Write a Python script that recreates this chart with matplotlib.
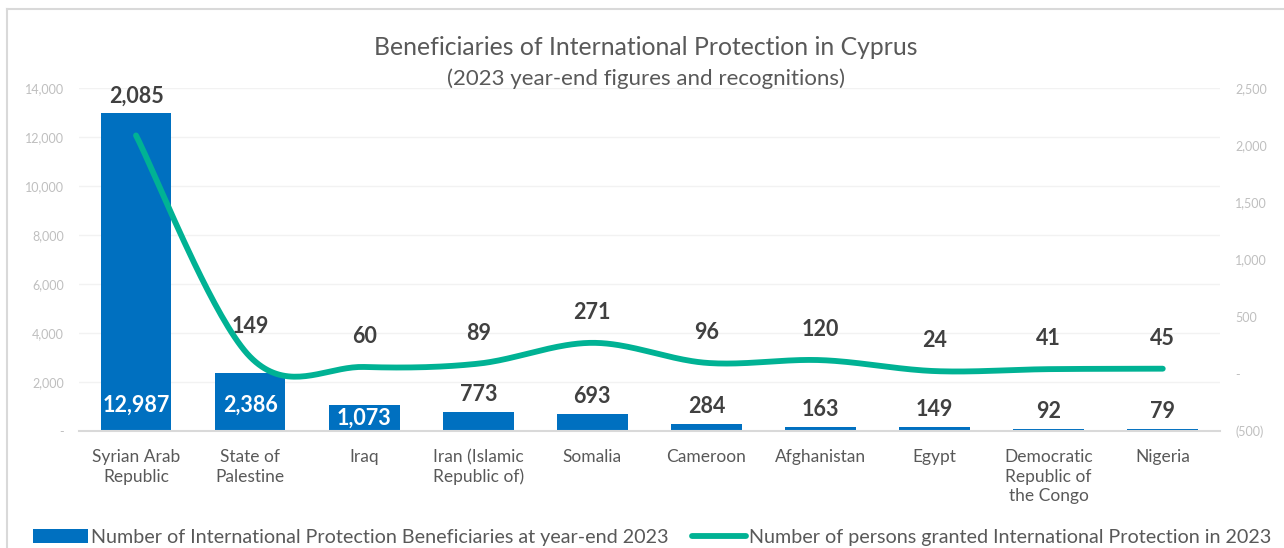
import matplotlib
matplotlib.use('Agg')
import matplotlib.pyplot as plt
import numpy as np
from matplotlib.ticker import FuncFormatter
from matplotlib.lines import Line2D
from matplotlib.patches import Patch

countries = ['Syrian Arab\nRepublic', 'State of\nPalestine', 'Iraq', 'Iran (Islamic\nRepublic of)',
             'Somalia', 'Cameroon', 'Afghanistan', 'Egypt', 'Democratic\nRepublic of\nthe Congo', 'Nigeria']
beneficiaries = [12987, 2386, 1073, 773, 693, 284, 163, 149, 92, 79]
granted = [2085, 149, 60, 89, 271, 96, 120, 24, 41, 45]

bar_label = 'Number of International Protection Beneficiaries at year-end 2023'
line_label = 'Number of persons granted International Protection in 2023'

BLUE = '#0070C0'
TEAL = '#00B294'
DARK = '#404040'
AXIS_GRAY = '#BFBFBF'
TEXT_GRAY = '#595959'

plt.rcParams['font.family'] = ['Lato', 'DejaVu Sans']


def smooth(xs, ys, n=40):
    # excel-like smoothed line: catmull-rom as cubic bezier segments
    pts = np.column_stack([xs, ys]).astype(float)
    ext = np.vstack([pts[0], pts, pts[-1]])
    out = []
    for i in range(len(pts) - 1):
        p0, p1, p2, p3 = ext[i], ext[i + 1], ext[i + 2], ext[i + 3]
        c1 = p1 + (p2 - p0) / 6
        c2 = p2 - (p3 - p1) / 6
        t = np.linspace(0, 1, n)[:, None]
        seg = (1 - t) ** 3 * p1 + 3 * (1 - t) ** 2 * t * c1 + 3 * (1 - t) * t ** 2 * c2 + t ** 3 * p2
        out.append(seg if i == 0 else seg[1:])
    out = np.vstack(out)
    return out[:, 0], out[:, 1]


def thousands(v, pos):
    if v == 0:
        return '-'
    if v < 0:
        return f'({abs(v):,.0f})'
    return f'{v:,.0f}'


fig = plt.figure(figsize=(12.84, 5.48), dpi=100)
ax = fig.add_axes([0.0615, 0.2135, 0.8885, 0.626])
ax2 = ax.twinx()

x = np.arange(len(countries))
ax.bar(x, beneficiaries, width=0.62, color=BLUE, zorder=2)
ax.set_xlim(-0.5, len(countries) - 0.5)
ax.set_ylim(0, 14000)
ax.set_yticks(np.arange(0, 14001, 2000))
ax.yaxis.set_major_formatter(FuncFormatter(thousands))
ax.grid(axis='y', color='#F2F2F2', linewidth=1, zorder=0)
ax.set_axisbelow(True)

ax.set_xticks(x)
ax.set_xticklabels(countries, fontsize=12.5, color=TEXT_GRAY, linespacing=1.27, va='top')
ax.tick_params(axis='x', length=0, pad=13)
ax.tick_params(axis='y', length=0, labelsize=9, labelcolor=AXIS_GRAY, pad=11)

for side in ['top', 'right', 'left']:
    ax.spines[side].set_visible(False)
    ax2.spines[side].set_visible(False)
ax.spines['bottom'].set_color('#D9D9D9')
ax.spines['bottom'].set_linewidth(1.5)
ax2.spines['bottom'].set_visible(False)

# bar value labels
for xi, v in zip(x, beneficiaries):
    if v > 2000:
        ax.text(xi, 1060, f'{v:,}', ha='center', va='center', fontsize=15.5,
                fontweight='bold', color='white', zorder=3)
    elif v > 1000:
        ax.annotate(f'{v:,}', (xi, v), xytext=(0, -10), textcoords='offset points',
                    ha='center', va='center', fontsize=15.5, fontweight='bold', color='white', zorder=3)
    else:
        ax.annotate(f'{v:,}', (xi, v), xytext=(0, 12.5), textcoords='offset points',
                    ha='center', va='center', fontsize=15.5, fontweight='bold', color=DARK, zorder=3)

# smoothed line on secondary axis
sx, sy = smooth(x, granted)
ax2.plot(sx, sy, color=TEAL, linewidth=4.2, solid_capstyle='round', zorder=4)
ax2.set_ylim(-500, 2500)
ax2.set_yticks(np.arange(-500, 2501, 500))
ax2.yaxis.set_major_formatter(FuncFormatter(thousands))
ax2.tick_params(axis='y', length=0, labelsize=9, labelcolor=AXIS_GRAY, pad=11)
for label in ax2.get_yticklabels():
    label.set_horizontalalignment('left')

for xi, v in zip(x, granted):
    # the top label sits just above the tall bar
    off = 28 if v == max(granted) else 22
    ax2.annotate(f'{v:,}', (xi, v), xytext=(0, off), textcoords='offset points',
                 ha='center', va='center', fontsize=15.5, fontweight='bold', color=DARK)

fig.text(0.503, 0.914, 'Beneficiaries of International Protection in Cyprus',
         ha='center', va='center', fontsize=17.8, color=TEXT_GRAY)
fig.text(0.503, 0.857, '(2023 year-end figures and recognitions)',
         ha='center', va='center', fontsize=16, color=TEXT_GRAY)

handles = [Patch(facecolor=BLUE, edgecolor='none'),
           Line2D([0], [0], color=TEAL, linewidth=4.2, solid_capstyle='round')]
fig.legend(handles, [bar_label, line_label], loc='center', bbox_to_anchor=(0.508, 0.02),
           ncol=2, frameon=False, fontsize=14.2, labelcolor=TEXT_GRAY,
           handlelength=2.75, handleheight=0.7, handletextpad=0.15, columnspacing=1.2)

# chart area border (left and top)
fig.add_artist(Line2D([0.0055, 0.0055], [0, 0.984], color='#D9D9D9', linewidth=1.5))
fig.add_artist(Line2D([0.0055, 1], [0.984, 0.984], color='#D9D9D9', linewidth=1.5))

fig.savefig('out.png', dpi=100)
